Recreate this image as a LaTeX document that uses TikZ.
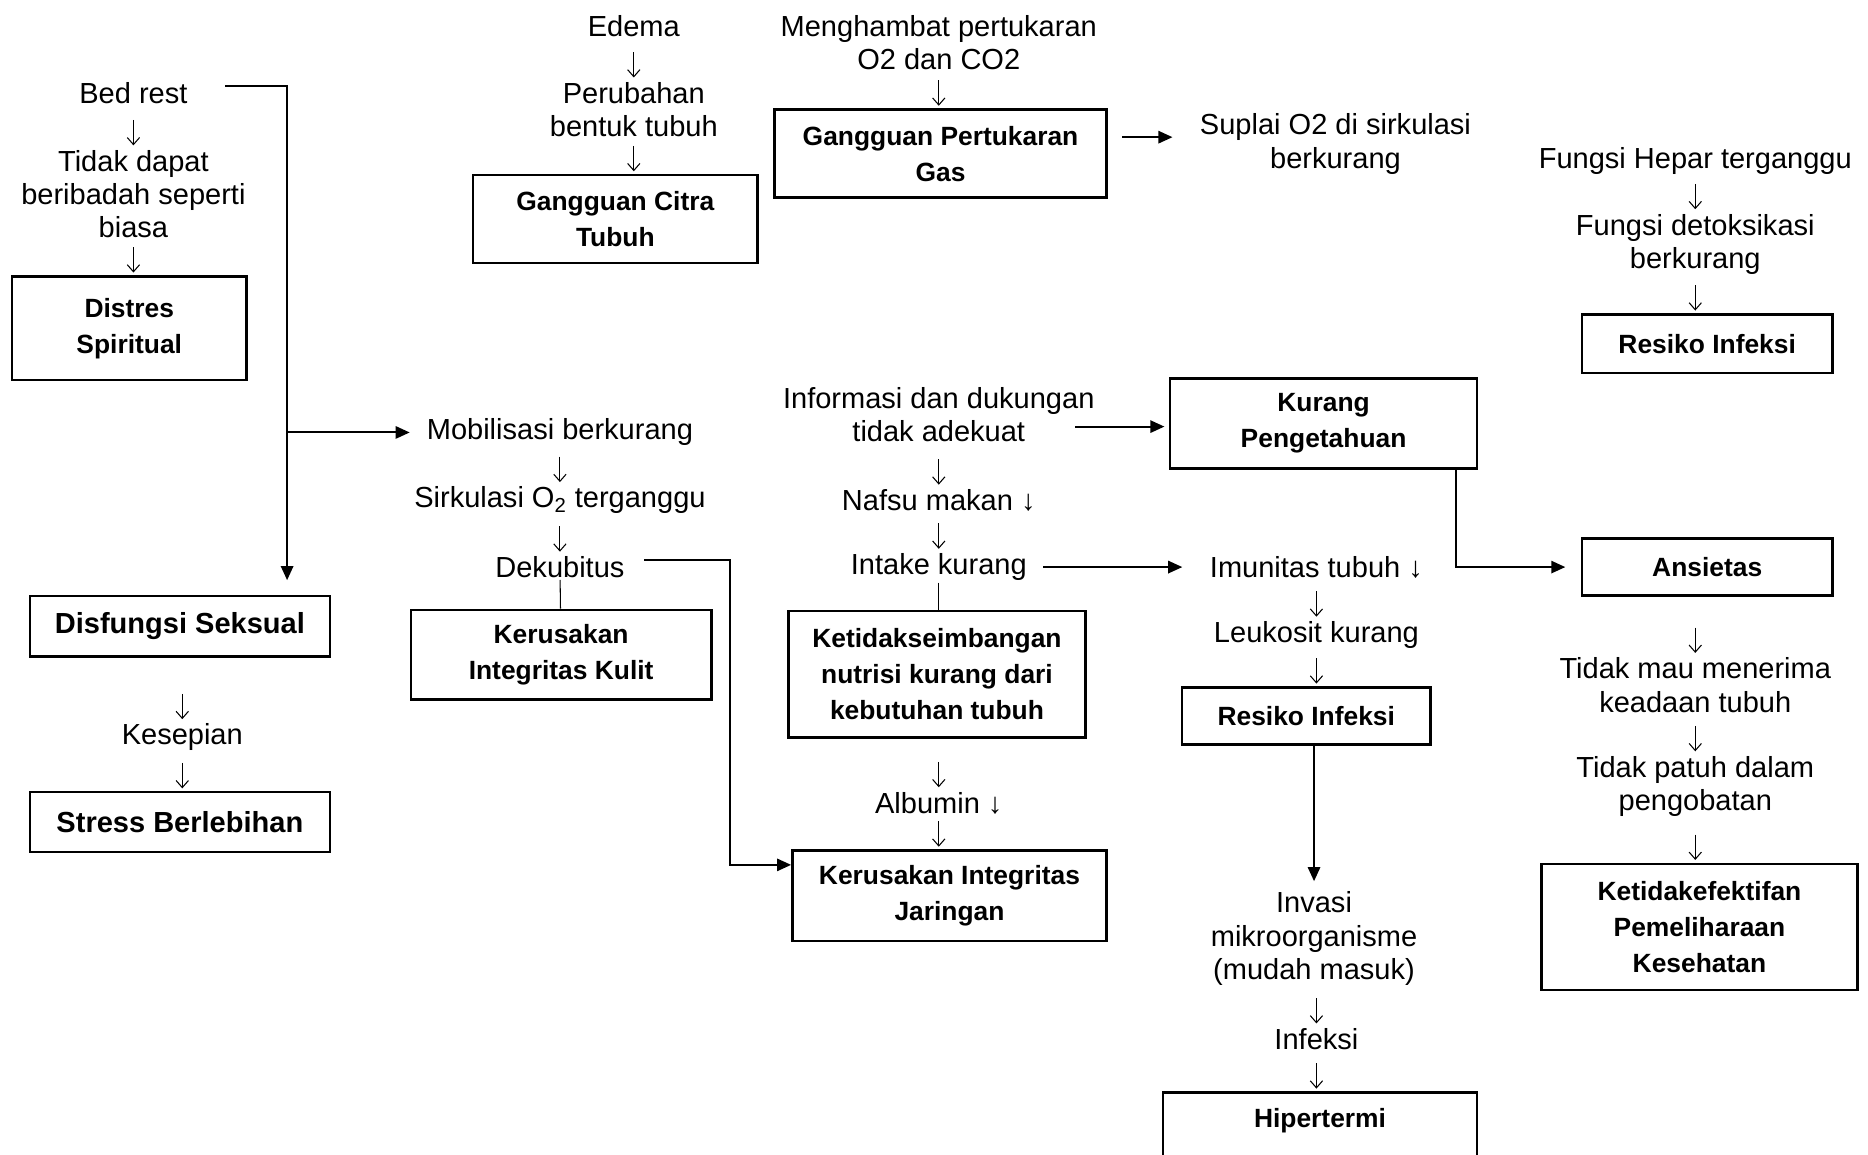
\documentclass[tikz,border=0pt]{standalone}
\usepackage{fontspec}
\setmainfont{Liberation Sans}
\usetikzlibrary{arrows.meta, positioning}
\tikzstyle{chart}=[x=0.0238cm, y=-0.0238cm, >={Triangle[length=8pt,width=7pt]}, font=\fontsize{16.5}{19}\selectfont]
\tikzstyle{txt}=[align=center, inner sep=1pt]
\tikzstyle{box}=[draw, line width=1.4pt, align=center, font=\bfseries\fontsize{15}{20.5}\selectfont]
\tikzstyle{bigbox}=[box, font=\bfseries\fontsize{16.5}{19}\selectfont]
\tikzstyle{flow}=[->, line width=1.1pt]
\tikzstyle{tie}=[line width=0.6pt]
\tikzstyle{dn}=[-{Straight Barb[length=4pt,width=7pt]}, line width=0.6pt, shorten >=1.5pt, to path={(\tikztotarget) ++(0,0.56cm) -- (\tikztotarget)}]

\begin{document}
\begin{tikzpicture}[chart]
  \useasboundingbox (0,0) rectangle (1568,969);
  \node[txt] (bed) at (112,78) {Bed rest};
  \node[txt] (tidak) at (112,163) {Tidak dapat\\beribadah seperti\\biasa};
  \node[box, minimum width=4.69cm, minimum height=2.07cm] (distres) at (108.5,275.5) {Distres\\Spiritual};
  \node[bigbox, minimum width=6cm, minimum height=1.21cm] (disfungsi) at (151,525.5) {Disfungsi Seksual};
  \node[txt] (kesepian) at (153,619) {Kesepian};
  \node[bigbox, minimum width=6cm, minimum height=1.19cm] (stress) at (151,690) {Stress Berlebihan};
  \coordinate (drop) at (241,487);

  \node[txt] (edema) at (532,22) {Edema};
  \node[txt] (perubahan) at (532,92) {Perubahan\\bentuk tubuh};
  \node[box, minimum width=5.69cm, minimum height=1.76cm] (citra) at (516.5,184) {Gangguan Citra\\Tubuh};

  \node[txt] (hambat) at (788,36) {Menghambat pertukaran\\O2 dan CO2};
  \node[box, minimum width=6.64cm, minimum height=1.76cm] (gas) at (789.5,129) {Gangguan Pertukaran\\Gas};
  \node[txt] (suplai) at (1121,121) {Suplai O2 di sirkulasi\\berkurang};

  \node[txt] (hepar) at (1423,135) {Fungsi Hepar terganggu};
  \node[txt] (detoks) at (1423,205) {Fungsi detoksikasi\\berkurang};
  \node[box, minimum width=5cm, minimum height=1.17cm] (resiko2) at (1433,288.5) {Resiko Infeksi};

  \node[txt] (mobilisasi) at (470,363) {Mobilisasi berkurang};
  \node[txt] (sirkulasi) at (470,420) {Sirkulasi O\textsubscript{2} terganggu};
  \node[txt] (dekubitus) at (470,476) {Dekubitus};
  \node[box, minimum width=6cm, minimum height=1.79cm] (kulit) at (471,549.5) {Kerusakan\\Integritas Kulit};

  \node[txt] (info) at (788,348) {Informasi dan dukungan\\tidak adekuat};
  \node[txt] (nafsu) at (788,420) {Nafsu makan ↓};
  \node[txt] (intake) at (788,476) {Intake kurang};
  \node[box, minimum width=5.93cm, minimum height=2.52cm] (nutrisi) at (786.5,566) {Ketidakseimbangan\\nutrisi kurang dari\\kebutuhan tubuh};
  \node[txt] (albumin) at (788,674) {Albumin ↓};
  \node[box, minimum width=6.28cm, minimum height=1.81cm] (jaringan) at (797,752) {Kerusakan Integritas\\Jaringan};

  \node[box, minimum width=6.14cm, minimum height=1.79cm] (pengetahuan) at (1111,355.5) {Kurang\\Pengetahuan};
  \node[txt] (imunitas) at (1105,476) {Imunitas tubuh ↓};
  \node[txt] (leukosit) at (1105,533) {Leukosit kurang};
  \node[box, minimum width=4.97cm, minimum height=1.14cm] (resiko1) at (1096.5,601) {Resiko Infeksi};
  \node[txt] (invasi) at (1103,788) {Invasi\\mikroorganisme\\(mudah masuk)};
  \node[txt] (infeksi) at (1105,872) {Infeksi};
  \node[box, anchor=north, minimum width=6.28cm, inner ysep=0pt, text height=20pt, text depth=1cm] (hipertermi) at (1108,916) {Hipertermi};

  \node[box, minimum width=5cm, minimum height=1.14cm] (ansietas) at (1433,476) {Ansietas};
  \node[txt] (menerima) at (1423,575) {Tidak mau menerima\\keadaan tubuh};
  \node[txt] (patuh) at (1423,660) {Tidak patuh dalam\\pengobatan};
  \node[box, minimum width=6.31cm, minimum height=2.52cm] (efektif) at (1426.5,778) {Ketidakefektifan\\Pemeliharaan\\Kesehatan};

  \path (bed) edge[dn] (tidak.north)
        (tidak) edge[dn] (distres.north -| tidak)
        (disfungsi) edge[dn] (kesepian.north)
        (kesepian) edge[dn] (stress.north -| kesepian)
        (edema) edge[dn] (perubahan.north)
        (perubahan) edge[dn] (citra.north -| perubahan)
        (hambat) edge[dn] (gas.north -| hambat)
        (hepar) edge[dn] (detoks.north)
        (detoks) edge[dn] (resiko2.north -| detoks)
        (mobilisasi) edge[dn] (sirkulasi.north)
        (sirkulasi) edge[dn] (dekubitus.north)
        (info) edge[dn] (nafsu.north)
        (nafsu) edge[dn] (intake.north)
        (nutrisi) edge[dn] (albumin.north)
        (albumin) edge[dn] (jaringan.north -| albumin)
        (imunitas) edge[dn] (leukosit.north)
        (leukosit) edge[dn] (resiko1.north -| leukosit)
        (invasi) edge[dn] (infeksi.north)
        (infeksi) edge[dn] (hipertermi.north -| infeksi)
        (ansietas) edge[dn] (menerima.north)
        (menerima) edge[dn] (patuh.north)
        (patuh) edge[dn] (efektif.north -| patuh);

  \draw[tie] (dekubitus) -- (kulit);
  \draw[tie] (intake) -- (intake |- nutrisi.north);

  \draw[flow] ([xshift=0.71cm,yshift=0.14cm]bed.east) -| (drop);
  \draw[flow, shorten >=0.3cm] (drop |- mobilisasi) -- (mobilisasi);
  \draw[flow] ([xshift=0.35cm,yshift=0.14cm]dekubitus.east) -- ++(72,0) |- ([yshift=-0.31cm]jaringan.north west);
  \draw[flow] ([xshift=0.29cm,yshift=0.33cm]gas.east) -- ++(42,0);
  \draw[flow] ([xshift=-0.43cm,yshift=-0.24cm]info.east) -- ++(75,0);
  \draw[flow, shorten <=0.29cm, shorten >=0.51cm] (intake) -- (imunitas);
  \draw[flow, shorten >=0.17cm] (resiko1.south -| invasi) -- (invasi);
  \draw[flow, shorten >=0.31cm] ([xshift=-0.45cm]pengetahuan.south east) |- (ansietas);
\end{tikzpicture}
\end{document}
